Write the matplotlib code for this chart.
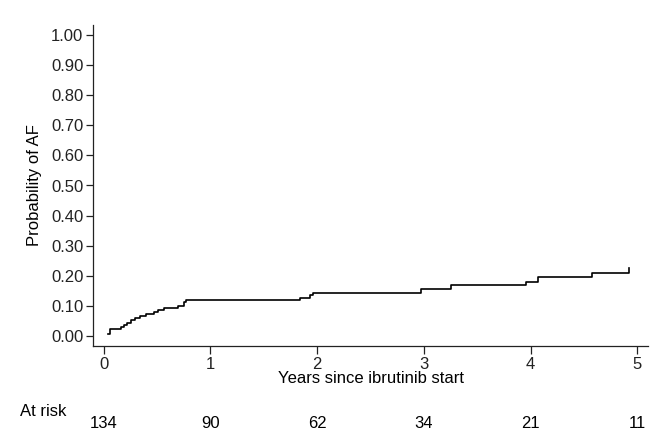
import numpy as np
import matplotlib
matplotlib.use("Agg")
import matplotlib.pyplot as plt

plt.rcParams['font.family'] = ['Liberation Sans', 'DejaVu Sans']

# cumulative incidence of AF
times = [0.045, 0.063, 0.163, 0.194, 0.219, 0.256, 0.294, 0.337, 0.393, 0.468,
         0.512, 0.562, 0.693, 0.749, 0.774, 1.842, 1.935, 1.960, 2.975, 3.253,
         3.958, 4.067, 4.579, 4.925]
probs = [0.006, 0.022, 0.030, 0.037, 0.044, 0.052, 0.059, 0.065, 0.072, 0.079,
         0.085, 0.094, 0.101, 0.112, 0.120, 0.127, 0.135, 0.142, 0.156, 0.168,
         0.180, 0.195, 0.208, 0.225]

risk_years = [0, 1, 2, 3, 4, 5]
at_risk = [134, 90, 62, 34, 21, 11]

fs = 12

fig = plt.figure(figsize=(6.57, 4.34), dpi=100)
ax = fig.add_axes([93 / 657, 1 - 346 / 434, 555 / 657, 321 / 434])

ax.step(times, probs, where='post', color='black', lw=1.2)

ax.set_xlim(-0.1, 5.1)
ax.set_ylim(-0.033, 1.033)
ax.set_xticks(risk_years)
ax.set_yticks(np.arange(0, 1.01, 0.1))
ax.yaxis.set_major_formatter(matplotlib.ticker.FormatStrFormatter('%.2f'))
ax.tick_params(direction='out', length=5, width=0.9, labelsize=fs, colors='#222222',
               pad=2)
ax.tick_params(axis='x', length=6)
for s in ['top', 'right']:
    ax.spines[s].set_visible(False)
for s in ['left', 'bottom']:
    ax.spines[s].set_linewidth(0.9)
    ax.spines[s].set_color('#222222')

ax.set_ylabel('Probability of AF', fontsize=fs)
ax.yaxis.set_label_coords(-0.092, 0.5)
ax.set_xlabel('Years since ibrutinib start', fontsize=fs, labelpad=-1)

# number at risk table
fig.text(20 / 657, 1 - 411 / 434, 'At risk', fontsize=fs, va='center', ha='left')
trans = matplotlib.transforms.blended_transform_factory(ax.transData, fig.transFigure)
for yr, n in zip(risk_years, at_risk):
    ax.text(yr, 1 - 424 / 434, str(n), transform=trans, fontsize=fs,
            ha='center', va='center')

fig.savefig('out.png', dpi=100, facecolor='white')
